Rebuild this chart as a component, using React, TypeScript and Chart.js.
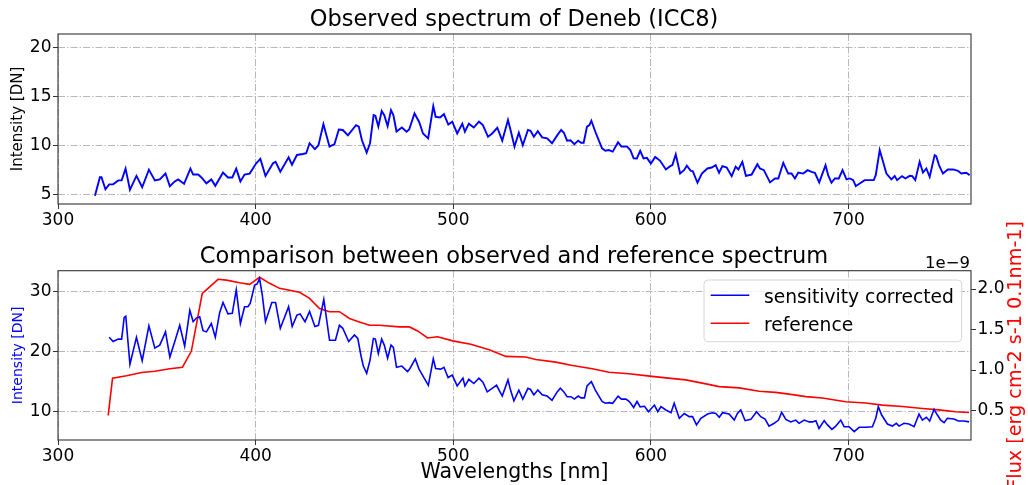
import React, { useEffect, useRef } from 'react';
import { Chart, registerables } from 'chart.js';
Chart.register(...registerables);

const FONT = "'DejaVu Sans', 'Noto Sans', sans-serif";

// ---- top panel: observed spectrum ----
const observedWavelengths = [
  318.7, 321.2, 322.0, 324.0, 325.9, 327.9, 330.5, 332.2, 334.2, 336.4, 339.7, 342.6, 346.0, 349.0, 351.5,
  354.4, 356.6, 359.1, 360.8, 363.8, 367.0, 368.4, 370.9, 372.6, 375.1, 377.6, 379.6, 383.5, 386.0, 388.2,
  390.2, 392.3, 394.4, 397.0, 400.3, 402.4, 405.0, 408.8, 410.1, 412.5, 416.7, 418.4, 420.9, 423.9, 425.6,
  427.3, 430.0, 431.8, 434.3, 437.4, 439.9, 442.1, 444.1, 446.7, 450.8, 452.2, 453.8, 456.2, 457.9, 459.7,
  460.6, 462.1, 463.8, 465.1, 466.8, 468.5, 469.7, 471.3, 474.0, 476.4, 477.7, 480.4, 482.7, 484.7, 487.3,
  489.9, 491.1, 493.3, 495.3, 497.5, 499.5, 502.0, 504.6, 505.9, 507.9, 510.4, 513.0, 515.0, 517.6, 519.7,
  522.3, 524.8, 527.7, 529.0, 531.0, 533.2, 535.2, 537.8, 539.1, 540.8, 542.8, 545.0, 547.5, 550.0, 552.6,
  554.6, 556.0, 557.6, 559.3, 561.3, 563.2, 564.7, 566.0, 567.7, 568.9, 569.9, 571.9, 575.3, 577.0, 578.7,
  580.7, 583.4, 585.1, 588.0, 589.6, 591.3, 592.9, 594.6, 596.3, 598.0, 600.0, 602.2, 604.7, 607.6, 609.8,
  610.9, 612.6, 614.8, 616.8, 618.2, 620.2, 621.2, 623.6, 625.8, 628.6, 630.8, 632.8, 634.5, 636.2, 638.4,
  640.9, 642.9, 644.3, 646.3, 648.1, 651.0, 653.9, 655.2, 657.2, 660.3, 662.8, 664.5, 667.0, 669.5, 671.2,
  672.9, 674.6, 677.1, 679.3, 681.3, 683.0, 685.2, 688.4, 689.7, 691.4, 693.1, 695.1, 697.0, 699.0, 700.7,
  702.4, 703.7, 705.7, 708.2, 710.8, 712.8, 713.8, 715.8, 717.5, 719.2, 721.7, 723.4, 724.6, 727.1, 728.8,
  731.0, 732.3, 733.8, 736.0, 737.7, 739.4, 741.1, 743.6, 744.4, 745.8, 747.8, 750.3, 752.9, 755.4, 757.1,
  759.6, 761.3,
];
const observedIntensity = [
  4.83, 6.73, 6.73, 5.5, 6.0, 6.0, 6.4, 6.4, 7.6, 5.44, 6.86, 5.7, 7.5, 6.4, 6.5,
  7.1, 5.8, 6.3, 6.5, 6.05, 7.6, 7.0, 7.0, 6.7, 6.1, 6.5, 5.85, 7.2, 6.7, 6.7,
  7.6, 6.3, 7.0, 7.1, 8.15, 8.6, 6.86, 8.15, 8.3, 7.3, 8.76, 8.0, 9.0, 9.1, 9.17,
  10.2, 9.6, 10.0, 12.15, 9.85, 10.1, 11.6, 11.55, 11.0, 12.05, 11.9, 10.5, 9.24, 10.2, 13.07,
  13.0, 11.9, 13.5, 13.07, 11.95, 13.58, 13.07, 11.4, 11.8, 11.37, 11.6, 13.24, 12.4, 11.2, 10.7,
  14.0, 12.9, 12.83, 13.17, 12.1, 12.4, 11.2, 12.2, 11.37, 12.2, 11.8, 12.4, 12.05, 10.86, 11.2,
  11.78, 10.46, 12.57, 11.55, 9.85, 11.27, 10.0, 11.55, 11.47, 10.86, 11.44, 10.8, 10.7, 10.2, 11.0,
  11.55, 11.27, 10.46, 10.5, 10.1, 10.46, 10.25, 10.25, 11.9, 12.05, 12.5, 11.37, 9.68, 9.44, 9.5,
  9.34, 10.3, 9.85, 9.85, 9.5, 8.66, 8.64, 9.42, 8.64, 8.7, 8.13, 8.8, 8.4, 7.52, 7.86,
  7.96, 9.05, 7.1, 7.45, 7.9, 7.38, 7.35, 6.16, 7.1, 7.62, 7.72, 7.96, 7.18, 7.86, 7.72,
  6.84, 7.8, 7.52, 8.3, 6.87, 7.0, 8.06, 7.62, 7.45, 6.2, 6.6, 6.6, 8.2, 7.1, 7.1,
  6.6, 7.2, 7.1, 7.45, 7.28, 7.18, 6.2, 7.96, 6.94, 6.16, 6.6, 6.6, 7.45, 6.5, 6.6,
  6.43, 5.82, 6.09, 6.43, 6.43, 6.43, 6.94, 9.49, 8.3, 7.1, 6.5, 6.84, 6.43, 6.84, 6.6,
  6.87, 6.84, 6.43, 8.3, 7.2, 7.62, 6.77, 8.98, 8.88, 7.96, 7.1, 7.52, 7.52, 7.38, 7.1,
  7.18, 6.94,
];

// ---- bottom panel: sensitivity corrected spectrum ----
const correctedWavelengths = [
  325.9, 327.9, 330.5, 332.2, 333.5, 334.3, 336.4, 339.7, 342.6, 346.0, 349.0, 351.5, 354.4, 356.6, 359.1,
  361.6, 364.1, 366.7, 368.4, 370.0, 371.7, 373.4, 375.1, 377.6, 379.6, 381.8, 383.5, 386.0, 388.2, 390.2,
  392.3, 394.4, 396.1, 397.3, 399.5, 400.8, 402.0, 403.4, 405.0, 408.2, 410.1, 412.5, 416.7, 418.5, 420.9,
  422.5, 425.0, 427.3, 430.0, 431.8, 434.5, 437.4, 440.4, 442.4, 444.1, 447.1, 450.0, 451.7, 453.4, 454.5,
  456.2, 457.9, 459.6, 460.6, 462.1, 463.8, 465.1, 466.8, 468.5, 469.7, 471.3, 474.0, 476.9, 478.1, 480.8,
  482.7, 485.3, 487.4, 489.9, 491.1, 493.7, 495.3, 497.4, 499.5, 502.0, 504.9, 505.9, 507.9, 510.4, 513.0,
  515.0, 517.2, 519.7, 521.9, 524.8, 527.7, 529.0, 530.7, 533.2, 535.2, 537.8, 539.1, 540.8, 542.8, 545.0,
  547.5, 550.0, 552.6, 554.2, 556.0, 557.6, 559.6, 561.3, 563.2, 564.7, 566.4, 567.7, 569.9, 571.9, 575.3,
  577.0, 579.0, 580.7, 583.4, 585.1, 587.4, 589.1, 591.3, 593.0, 594.6, 596.8, 598.8, 601.8, 603.5, 605.1,
  607.6, 610.2, 611.8, 614.4, 616.9, 619.4, 621.1, 623.1, 625.3, 628.7, 631.2, 632.9, 634.6, 636.3, 639.6,
  642.2, 643.8, 645.5, 647.7, 650.6, 653.5, 655.6, 657.8, 659.8, 662.4, 664.6, 666.2, 668.3, 670.8, 673.3,
  675.0, 677.6, 680.1, 681.8, 683.5, 685.1, 687.7, 689.4, 691.6, 693.6, 696.1, 697.8, 700.3, 702.9, 705.4,
  708.7, 712.1, 713.8, 715.1, 716.8, 719.7, 722.2, 724.2, 725.6, 728.1, 730.6, 733.2, 735.7, 737.4, 739.4,
  741.1, 743.3, 745.0, 746.7, 748.4, 750.0, 753.4, 755.6, 758.5, 761.0,
];
const correctedIntensity = [
  22.4, 21.7, 22.1, 22.1, 25.7, 25.9, 17.9, 22.4, 18.5, 24.3, 20.6, 21.1, 23.3, 19.1, 21.7,
  24.4, 20.9, 26.9, 25.0, 25.6, 25.8, 23.5, 23.3, 24.7, 22.4, 26.5, 28.2, 26.3, 26.4, 30.3,
  24.7, 27.5, 27.5, 28.1, 31.1, 31.3, 32.2, 29.4, 25.0, 28.2, 28.2, 23.9, 27.5, 24.2, 26.1,
  26.3, 25.0, 26.7, 24.2, 24.4, 28.7, 21.9, 21.9, 24.4, 23.9, 21.7, 22.8, 22.2, 19.2, 17.6,
  16.4, 18.6, 22.2, 22.1, 19.7, 22.1, 21.1, 18.9, 21.1, 20.7, 17.4, 17.6, 16.7, 17.2, 18.8,
  17.1, 15.6, 14.4, 18.8, 17.2, 17.1, 17.4, 15.7, 16.1, 14.3, 15.6, 14.3, 15.4, 14.7, 15.6,
  14.9, 13.3, 13.9, 14.4, 12.6, 15.3, 13.6, 11.8, 13.6, 12.1, 13.9, 13.7, 12.8, 13.6, 12.8,
  12.6, 11.9, 13.3, 13.9, 13.3, 12.5, 12.5, 12.1, 12.6, 12.3, 12.3, 14.3, 15.0, 13.6, 11.7,
  11.4, 11.5, 11.4, 12.6, 12.1, 12.1, 11.7, 10.7, 11.7, 10.8, 10.9, 10.0, 11.1, 10.0, 10.83,
  10.28, 9.83, 11.4, 8.9, 9.7, 9.17, 9.17, 7.8, 8.9, 9.6, 9.83, 9.7, 9.06, 9.83, 9.6,
  8.6, 9.7, 10.28, 8.5, 8.72, 10.0, 9.17, 8.78, 7.6, 8.06, 8.6, 9.9, 8.72, 8.3, 8.6,
  8.06, 8.6, 8.3, 8.3, 8.5, 7.2, 8.5, 7.8, 7.06, 7.6, 8.6, 7.5, 7.5, 6.67, 7.4,
  7.4, 7.5, 8.9, 10.83, 9.44, 7.94, 7.6, 8.06, 7.6, 8.06, 7.94, 7.5, 9.6, 8.6, 9.06,
  8.44, 10.4, 9.44, 8.6, 8.17, 8.9, 8.78, 8.44, 8.44, 8.3,
];

// ---- bottom panel: reference spectrum (flux in units of 1e-9) ----
const referenceWavelengths = [
  325.4, 327.6, 334.7, 342.3, 349.0, 356.6, 363.0, 367.5, 373.0, 375.9, 381.0, 385.2, 391.9, 397.0, 402.0,
  407.1, 412.1, 422.2, 427.3, 432.3, 437.4, 442.4, 447.5, 452.5, 457.6, 462.6, 472.7, 477.8, 482.0, 487.0,
  492.1, 499.7, 508.9, 518.2, 526.6, 536.7, 541.8, 551.9, 560.3, 570.4, 578.8, 588.9, 599.5, 607.6, 617.7,
  627.9, 634.6, 644.7, 654.8, 663.2, 671.7, 678.4, 686.8, 698.6, 708.7, 717.2, 727.3, 737.4, 745.8, 754.2,
  761.0,
];
const referenceFlux = [
  0.44, 0.9, 0.93, 0.97, 0.985, 1.015, 1.035, 1.234, 1.946, 2.008, 2.12, 2.11, 2.078, 2.058, 2.145,
  2.07, 2.008, 1.959, 1.884, 1.76, 1.72, 1.72, 1.636, 1.594, 1.553, 1.553, 1.532, 1.532, 1.482, 1.395,
  1.41, 1.36, 1.317, 1.25, 1.168, 1.16, 1.13, 1.097, 1.056, 1.015, 0.973, 0.953, 0.925, 0.903, 0.878,
  0.829, 0.795, 0.779, 0.737, 0.724, 0.696, 0.671, 0.655, 0.609, 0.592, 0.567, 0.55, 0.525, 0.508, 0.484,
  0.475,
];

const TITLE_TOP = 'Observed spectrum of Deneb (ICC8)';
const TITLE_BOTTOM = 'Comparison between observed and reference spectrum';
const LABEL_X = 'Wavelengths [nm]';
const LABEL_Y = 'Intensity [DN]';
const LABEL_Y2 = 'Flux [erg cm-2 s-1 0.1nm-1]';
const LEGEND_BLUE = 'sensitivity corrected';
const LEGEND_RED = 'reference';

const W = 1028;
const TOP_H = 236;
const BOT_TOP = 200;
const BOT_H = 285;
const GRID_DASH = [7, 2, 1.5, 2];

function pairs(xs: number[], ys: number[]) {
  return xs.map((x, i) => ({ x, y: ys[i] }));
}

const tickFont = { size: 17, family: FONT };

function xScale(height: number, withTitle: boolean) {
  return {
    type: 'linear',
    min: 300,
    max: 762,
    ticks: {
      stepSize: 100,
      includeBounds: false,
      autoSkip: false,
      maxRotation: 0,
      font: tickFont,
      color: '#000',
      padding: 1,
    },
    grid: { color: '#b0b0b0', lineWidth: 0.9, tickLength: 5, tickColor: '#333', tickWidth: 1 },
    border: { display: false, dash: GRID_DASH },
    title: withTitle
      ? { display: true, text: LABEL_X, font: { size: 20.5, family: FONT }, color: '#000', padding: { top: 0, bottom: 0 } }
      : { display: false },
    afterFit: (s: any) => {
      s.height = height;
    },
  };
}

const framePlugin = {
  id: 'mplFrame',
  afterDatasetsDraw(chart: any) {
    const { ctx, chartArea: a } = chart;
    ctx.save();
    ctx.strokeStyle = '#333';
    ctx.lineWidth = 1.1;
    ctx.strokeRect(a.left, a.top, a.right - a.left, a.bottom - a.top);
    ctx.restore();
  },
};

const extrasPlugin = {
  id: 'mplExtras',
  afterDraw(chart: any) {
    const { ctx, chartArea: a } = chart;
    ctx.save();
    // offset text of right axis
    ctx.font = `16.5px ${FONT}`;
    ctx.fillStyle = '#000';
    ctx.textAlign = 'right';
    ctx.textBaseline = 'alphabetic';
    ctx.fillText('1e\u22129', a.right - 1, a.top - 2.4);
    ctx.restore();

    // right axis label (reads bottom to top)
    ctx.save();
    ctx.translate(1016.5, (a.top + a.bottom) / 2);
    ctx.rotate(-Math.PI / 2);
    ctx.font = `19.2px ${FONT}`;
    ctx.fillStyle = '#ff0000';
    ctx.textAlign = 'center';
    ctx.textBaseline = 'middle';
    ctx.fillText(LABEL_Y2, 0, 0);
    ctx.restore();

    // legend
    const left = a.right - 267;
    const right = a.right - 9.3;
    const top = a.top + 9.3;
    const bottom = a.top + 71;
    ctx.save();
    ctx.beginPath();
    const r = 4;
    ctx.moveTo(left + r, top);
    ctx.lineTo(right - r, top);
    ctx.quadraticCurveTo(right, top, right, top + r);
    ctx.lineTo(right, bottom - r);
    ctx.quadraticCurveTo(right, bottom, right - r, bottom);
    ctx.lineTo(left + r, bottom);
    ctx.quadraticCurveTo(left, bottom, left, bottom - r);
    ctx.lineTo(left, top + r);
    ctx.quadraticCurveTo(left, top, left + r, top);
    ctx.closePath();
    ctx.fillStyle = 'rgba(255,255,255,0.8)';
    ctx.fill();
    ctx.strokeStyle = '#d6d6d6';
    ctx.lineWidth = 1;
    ctx.stroke();
    const rows = chart.data.datasets.map((d: any, i: number) => ({
      label: d.label,
      color: d.borderColor,
      y: top + 15.3 + i * 28,
    }));
    ctx.font = `18.7px ${FONT}`;
    ctx.textAlign = 'left';
    ctx.textBaseline = 'alphabetic';
    for (const row of rows) {
      ctx.beginPath();
      ctx.strokeStyle = row.color;
      ctx.lineWidth = 1.5;
      ctx.moveTo(left + 6.7, row.y);
      ctx.lineTo(left + 45.3, row.y);
      ctx.stroke();
      ctx.fillStyle = '#000';
      ctx.fillText(row.label, left + 60, row.y + 7.4);
    }
    ctx.restore();
  },
};

export default function App() {
  const topRef = useRef<HTMLCanvasElement>(null);
  const botRef = useRef<HTMLCanvasElement>(null);

  useEffect(() => {
    Chart.defaults.font.family = FONT;
    const topChart = new Chart(topRef.current as HTMLCanvasElement, {
      type: 'line',
      data: {
        datasets: [
          {
            label: 'observed',
            data: pairs(observedWavelengths, observedIntensity),
            borderColor: '#0000ff',
            borderWidth: 1.9,
            pointRadius: 0,
            tension: 0,
            fill: false,
          },
        ],
      },
      options: {
        responsive: false,
        animation: false,
        events: [],
        layout: { padding: 0 },
        plugins: {
          legend: { display: false },
          tooltip: { enabled: false },
          title: {
            display: true,
            text: TITLE_TOP,
            font: { size: 22.5, weight: 'normal', family: FONT },
            color: '#000',
            padding: { top: 7, bottom: 0 },
          },
        },
        scales: {
          x: xScale(TOP_H - 204, false),
          y: {
            type: 'linear',
            min: 3.99,
            max: 21.36,
            ticks: { stepSize: 5, includeBounds: false, font: tickFont, color: '#000', padding: 1.5 },
            grid: { color: '#b0b0b0', lineWidth: 0.9, tickLength: 5, tickColor: '#333', tickWidth: 1 },
            border: { display: false, dash: GRID_DASH },
            title: {
              display: true,
              text: LABEL_Y,
              font: { size: 15, family: FONT },
              color: '#000',
              padding: { top: 9.5, bottom: 0 },
            },
            afterFit: (s: any) => {
              s.width = 58;
            },
          },
          yr: {
            type: 'linear',
            position: 'right',
            display: true,
            min: 0,
            max: 1,
            grid: { display: false },
            ticks: { display: false },
            border: { display: false },
            afterFit: (s: any) => {
              s.width = 57;
            },
          },
        },
      } as any,
      plugins: [framePlugin],
    });

    const botChart = new Chart(botRef.current as HTMLCanvasElement, {
      type: 'line',
      data: {
        datasets: [
          {
            label: LEGEND_BLUE,
            data: pairs(correctedWavelengths, correctedIntensity),
            borderColor: '#0000ff',
            borderWidth: 1.6,
            pointRadius: 0,
            tension: 0,
            fill: false,
            yAxisID: 'y',
          },
          {
            label: LEGEND_RED,
            data: pairs(referenceWavelengths, referenceFlux),
            borderColor: '#ff0000',
            borderWidth: 1.6,
            pointRadius: 0,
            tension: 0,
            fill: false,
            yAxisID: 'y1',
          },
        ],
      },
      options: {
        responsive: false,
        animation: false,
        events: [],
        layout: { padding: 0 },
        plugins: {
          legend: { display: false },
          tooltip: { enabled: false },
          title: {
            display: true,
            text: TITLE_BOTTOM,
            font: { size: 22.5, weight: 'normal', family: FONT },
            color: '#000',
            padding: { top: 43.7, bottom: 0 },
          },
        },
        scales: {
          x: xScale(BOT_H - (440 - BOT_TOP), true),
          y: {
            type: 'linear',
            position: 'left',
            min: 5.28,
            max: 33.5,
            ticks: { stepSize: 10, includeBounds: false, font: tickFont, color: '#000', padding: 1.5 },
            grid: { color: '#b0b0b0', lineWidth: 0.9, tickLength: 5, tickColor: '#333', tickWidth: 1 },
            border: { display: false, dash: GRID_DASH },
            title: {
              display: true,
              text: LABEL_Y,
              font: { size: 14, family: FONT },
              color: '#0000ff',
              padding: { top: 10, bottom: 0 },
            },
            afterFit: (s: any) => {
              s.width = 58;
            },
          },
          y1: {
            type: 'linear',
            position: 'right',
            min: 0.136,
            max: 2.226,
            ticks: {
              stepSize: 0.5,
              includeBounds: false,
              font: tickFont,
              color: '#000',
              padding: 1.5,
              callback: (v: any) => Number(v).toFixed(1),
            },
            grid: { drawOnChartArea: false, tickLength: 5, tickColor: '#333', tickWidth: 1 },
            border: { display: false },
            afterFit: (s: any) => {
              s.width = 57;
            },
          },
        },
      } as any,
      plugins: [framePlugin, extrasPlugin],
    });

    return () => {
      topChart.destroy();
      botChart.destroy();
    };
  }, []);

  return (
    <div style={{ position: 'fixed', left: 0, top: 0, width: W, height: 485, background: '#fff' }}>
      <canvas
        ref={topRef}
        width={W}
        height={TOP_H}
        style={{ position: 'absolute', left: 0, top: 0, width: W, height: TOP_H }}
      />
      <canvas
        ref={botRef}
        width={W}
        height={BOT_H}
        style={{ position: 'absolute', left: 0, top: BOT_TOP, width: W, height: BOT_H }}
      />
    </div>
  );
}
